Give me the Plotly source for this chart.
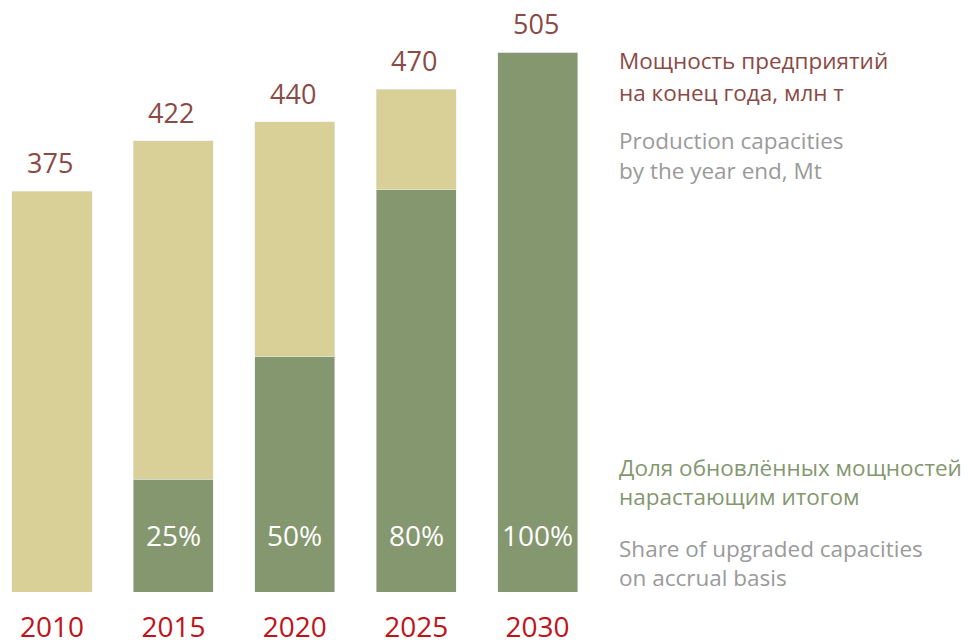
import plotly.graph_objects as go

YEARS = ["2010", "2015", "2020", "2025", "2030"]
TOTAL = [375, 422, 440, 470, 505]          # capacity by year end, Mt
SHARE = [0, 25, 50, 80, 100]               # upgraded share, %

TAN = "#d8d097"
GREEN = "#84976f"
BROWN = "#8a4a45"
RED = "#c0121b"
GREY = "#9a9a9a"
FONT = "Open Sans"

# page body has an 8px margin, so the figure is drawn 8px smaller
W, H = 963, 632
PLOT_H = 584

upgraded = [t * s / 100 for t, s in zip(TOTAL, SHARE)]
rest = [t - u for t, u in zip(TOTAL, upgraded)]

fig = go.Figure()
fig.add_trace(go.Bar(x=YEARS, y=upgraded, marker_color=GREEN, hoverinfo="skip"))
fig.add_trace(go.Bar(x=YEARS, y=rest, marker_color=TAN, hoverinfo="skip"))

# totals above bars
for i, t in enumerate(TOTAL):
    fig.add_annotation(x=i, y=t, text=str(t), showarrow=False,
                       yanchor="bottom", yshift=8, xshift=-2,
                       font=dict(family=FONT, size=27, color=BROWN))

# shares inside green segments
for i, s in enumerate(SHARE):
    if s:
        fig.add_annotation(x=i, y=53, text=f"{s}%", showarrow=False,
                           font=dict(family=FONT, size=28, color="white"))

# side legend texts, one line each (centre y in window pixels)
side = [
    (60, "Мощность предприятий", BROWN),
    (93, "на конец года, млн т", BROWN),
    (140, "Production capacities", GREY),
    (170, "by the year end, Mt", GREY),
    (467, "Доля обновлённых мощностей", GREEN),
    (496, "нарастающим итогом", GREEN),
    (548, "Share of upgraded capacities", GREY),
    (577, "on accrual basis", GREY),
]
for py, txt, col in side:
    fig.add_annotation(xref="paper", yref="paper", x=(617 - 8) / W,
                       y=1 - (py - 8) / PLOT_H,
                       xanchor="left", yanchor="middle", align="left",
                       text=txt, showarrow=False,
                       font=dict(family=FONT, size=22.5, color=col))

fig.update_layout(
    barmode="stack",
    bargap=0.34,
    width=W, height=H,
    margin=dict(l=0, r=0, t=0, b=H - PLOT_H, autoexpand=False),
    plot_bgcolor="white", paper_bgcolor="white",
    showlegend=False,
    font=dict(family=FONT),
)
fig.update_xaxes(type="category", range=[-0.3624, 7.570], showgrid=False,
                 showline=False, zeroline=False, automargin=False,
                 ticks="outside", ticklen=10, tickcolor="rgba(0,0,0,0)",
                 tickfont=dict(family=FONT, size=28, color=RED))
fig.update_yaxes(range=[0, 546.2], visible=False)

fig.write_html("out.html")
